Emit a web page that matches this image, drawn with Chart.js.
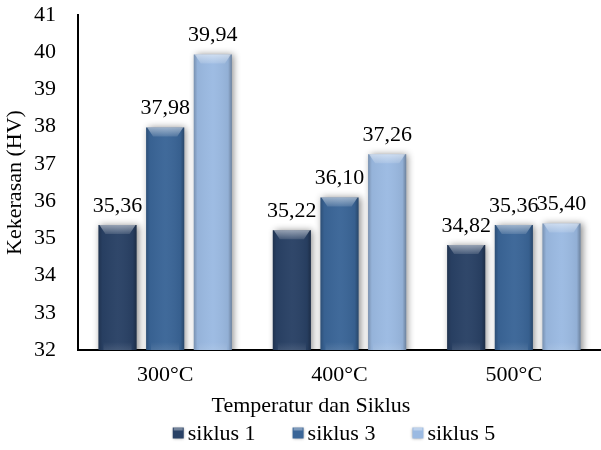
<!DOCTYPE html>
<html>
<head>
<meta charset="utf-8">
<script src="https://cdn.jsdelivr.net/npm/chart.js@4.4.1/dist/chart.umd.min.js"></script>
<style>
  html, body { margin: 0; padding: 0; background: #ffffff; }
  #wrap { width: 601px; height: 450px; }
</style>
</head>
<body>
<div id="wrap"><canvas id="c" width="601" height="450"></canvas></div>
<script>
// Kekerasan (HV) per temperatur dan siklus
const categories = ['300°C', '400°C', '500°C'];
const seriesNames = ['siklus 1', 'siklus 3', 'siklus 5'];
const siklus1 = [35.36, 35.22, 34.82];
const siklus3 = [37.98, 36.10, 35.36];
const siklus5 = [39.94, 37.26, 35.40];
const yTicks = [32, 33, 34, 35, 36, 37, 38, 39, 40, 41];

const colors = ['#294165', '#3a6597', '#9bbae2'];
const FONT = "'Liberation Serif', 'DejaVu Serif', serif";
const FS = 22;
const xTitle = 'Temperatur dan Siklus';

const fmt = v => v.toFixed(2).replace('.', ',');

// bevelled bars with a soft drop shadow, value labels, axis title and legend
const decorPlugin = {
  id: 'decor',
  beforeDatasetsDraw(chart) {
    const ctx = chart.ctx;
    ctx.save();
    ctx.shadowColor = 'rgba(0,0,0,0.45)';
    ctx.shadowBlur = 7;
    ctx.shadowOffsetX = 2;
    ctx.shadowOffsetY = 0;
  },
  afterDatasetsDraw(chart) {
    const ctx = chart.ctx;
    const area = chart.chartArea;
    ctx.restore();
    ctx.save();
    chart.data.datasets.forEach((ds, di) => {
      const meta = chart.getDatasetMeta(di);
      meta.data.forEach((bar) => {
        const left = bar.x - bar.width / 2;
        const right = bar.x + bar.width / 2;
        const top = bar.y;
        const bottom = Math.min(bar.base, area.bottom);
        const w = right - left;
        // darker side edges
        const g = ctx.createLinearGradient(left, 0, right, 0);
        g.addColorStop(0, 'rgba(0,0,0,0.22)');
        g.addColorStop(0.1, 'rgba(0,0,0,0.04)');
        g.addColorStop(0.5, 'rgba(255,255,255,0.03)');
        g.addColorStop(0.9, 'rgba(0,0,0,0.06)');
        g.addColorStop(1, 'rgba(0,0,0,0.30)');
        ctx.fillStyle = g;
        ctx.fillRect(left, top, w, bottom - top);
        // light top bevel
        const cap = 9;
        const gt = ctx.createLinearGradient(0, top, 0, top + cap);
        gt.addColorStop(0, 'rgba(255,255,255,0.50)');
        gt.addColorStop(1, 'rgba(255,255,255,0.12)');
        ctx.fillStyle = gt;
        ctx.beginPath();
        ctx.moveTo(left + 1, top);
        ctx.lineTo(right - 1, top);
        ctx.lineTo(right - 7, top + cap);
        ctx.lineTo(left + 7, top + cap);
        ctx.closePath();
        ctx.fill();
        // faint bottom bevel
        const gb = ctx.createLinearGradient(0, bottom - 8, 0, bottom);
        gb.addColorStop(0, 'rgba(255,255,255,0)');
        gb.addColorStop(1, 'rgba(255,255,255,0.10)');
        ctx.fillStyle = gb;
        ctx.fillRect(left + 5, bottom - 8, w - 10, 8);
      });
    });
    ctx.restore();

    // value labels above bars
    ctx.save();
    ctx.fillStyle = '#000';
    ctx.font = FS + 'px ' + FONT;
    ctx.textAlign = 'center';
    ctx.textBaseline = 'alphabetic';
    chart.data.datasets.forEach((ds, di) => {
      const meta = chart.getDatasetMeta(di);
      meta.data.forEach((bar, i) => {
        ctx.fillText(fmt(ds.data[i]), bar.x, bar.y - 13);
      });
    });
    ctx.restore();
  },
  afterDraw(chart) {
    const ctx = chart.ctx;
    const area = chart.chartArea;
    ctx.save();
    ctx.fillStyle = '#000';
    ctx.font = FS + 'px ' + FONT;
    ctx.textBaseline = 'middle';
    // x-axis title
    ctx.textAlign = 'center';
    ctx.fillText(xTitle, 311, area.bottom + 56);
    // legend
    const box = 11, gapBox = 4, gapItem = 37;
    const widths = seriesNames.map(s => ctx.measureText(s).width);
    const total = widths.reduce((a, b) => a + b, 0) + seriesNames.length * (box + gapBox) + (seriesNames.length - 1) * gapItem;
    let x = 334 - total / 2;
    const y = area.bottom + 83;
    ctx.textAlign = 'left';
    seriesNames.forEach((name, i) => {
      ctx.save();
      ctx.shadowColor = 'rgba(0,0,0,0.4)';
      ctx.shadowBlur = 3;
      ctx.fillStyle = colors[i];
      ctx.fillRect(x, y - box / 2, box, box);
      ctx.restore();
      ctx.fillStyle = 'rgba(255,255,255,0.35)';
      ctx.fillRect(x + 1, y - box / 2, box - 2, 3);
      ctx.fillStyle = '#000';
      ctx.fillText(name, x + box + gapBox, y + 1);
      x += box + gapBox + widths[i] + gapItem;
    });
    ctx.restore();
  }
};

const datasets = [siklus1, siklus3, siklus5].map((d, i) => ({
  label: seriesNames[i],
  data: d,
  backgroundColor: colors[i],
  borderWidth: 0,
  categoryPercentage: 0.82,
  barPercentage: 0.80
}));

new Chart(document.getElementById('c'), {
  type: 'bar',
  data: { labels: categories, datasets },
  plugins: [decorPlugin],
  options: {
    responsive: false,
    animation: false,
    layout: { padding: { left: 0, right: 0, top: 15, bottom: 0 } },
    scales: {
      x: {
        afterFit(axis) { axis.height = 100; axis.paddingLeft = 0; axis.paddingRight = 0; },
        grid: { display: false, drawTicks: false },
        border: { display: true, color: '#000', width: 2 },
        ticks: { color: '#000', font: { family: FONT, size: FS }, padding: 12 }
      },
      y: {
        min: 32,
        max: 41,
        afterBuildTicks(axis) { axis.ticks = yTicks.map(v => ({ value: v })); },
        afterFit(axis) { axis.width = 78; axis.paddingTop = 0; axis.paddingBottom = 0; },
        grid: { display: false, drawTicks: false },
        border: { display: true, color: '#000', width: 2 },
        ticks: { color: '#000', font: { family: FONT, size: FS }, padding: 22 },
        title: { display: true, text: 'Kekerasan (HV)', color: '#000', font: { family: FONT, size: FS }, padding: { top: 2, bottom: 0 } }
      }
    },
    plugins: {
      legend: { display: false },
      tooltip: { enabled: false }
    }
  }
});
</script>
</body>
</html>
